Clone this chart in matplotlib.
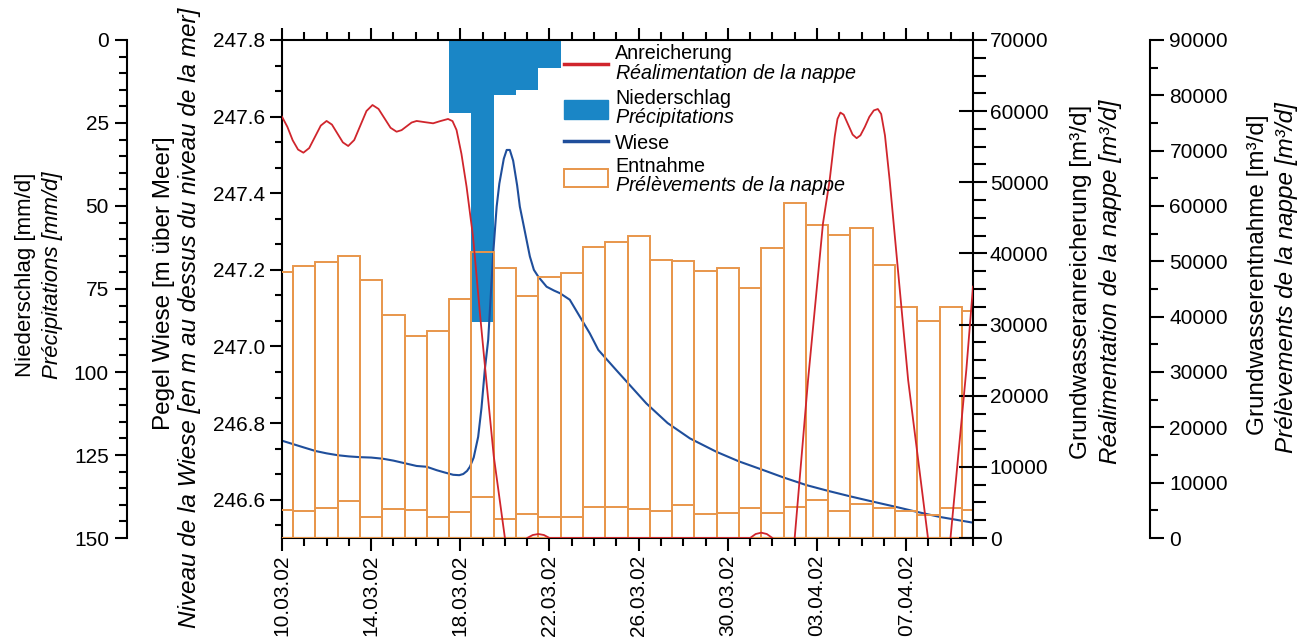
import numpy as np
import matplotlib
matplotlib.use("Agg")
import matplotlib.pyplot as plt
import matplotlib.dates as mdates
from matplotlib.patches import Patch
from matplotlib.lines import Line2D
from matplotlib.ticker import MultipleLocator

plt.rcParams['font.family'] = ['Liberation Sans', 'DejaVu Sans']
plt.rcParams['mathtext.fontset'] = 'custom'
plt.rcParams['mathtext.rm'] = 'Liberation Sans'
plt.rcParams['mathtext.it'] = 'Liberation Sans:italic'

# daily values, 10.03.02 .. 10.04.02
start = np.datetime64('2002-03-10')
days = np.arange(start, np.datetime64('2002-04-11'))

niederschlag = [0, 0, 0, 0, 0, 0, 0, 0, 21.9, 84.8, 16.6, 15.0, 8.3, 0, 0, 0,
                0, 0, 0, 0, 0, 0, 0, 0, 0, 0, 0, 0, 0, 0, 0, 0]
entnahme = [48130, 49160, 49820, 51020, 46680, 40300, 36560, 37350, 43250, 51690,
            48850, 43730, 47110, 47840, 52540, 53440, 54520, 50240, 50110, 48250,
            48740, 45180, 52350, 60490, 56570, 54760, 55970, 49340, 41800, 39270,
            41800, 41080]
entnahme_klein = [5060, 4880, 5480, 6690, 3740, 5240, 5060, 3850, 4700, 7460,
                  3490, 4340, 3740, 3850, 5660, 5660, 5300, 4820, 6000, 4340,
                  4570, 5480, 4570, 5660, 6870, 4880, 6090, 5480, 4930, 4160,
                  5480, 5060]

# Pegel Wiese: days after 10.03.02 00:00 / m ueber Meer
wiese_t = [0.0, 0.5, 1.0, 1.51, 2.0, 2.51, 3.0, 3.5, 4.0, 4.52, 5.0, 5.52, 6.04,
           6.49, 6.94, 7.3, 7.68, 7.95, 8.13, 8.3, 8.43, 8.6, 8.8, 8.95, 9.1,
           9.25, 9.475, 9.63, 9.75, 9.95, 10.08, 10.22, 10.37, 10.55, 10.67,
           10.82, 11.12, 11.3, 11.5, 11.87, 12.2, 12.47, 12.91, 13.36, 13.81,
           14.19, 15.0, 16.35, 17.3, 18.3, 19.49, 20.5, 21.51, 22.5, 23.53, 24.5,
           25.47, 26.5, 27.56, 28.5, 29.51, 30.3, 31.0]
wiese_h = [246.754, 246.745, 246.736, 246.727, 246.721, 246.716, 246.713,
           246.711, 246.710, 246.707, 246.702, 246.695, 246.688, 246.686,
           246.677, 246.671, 246.665, 246.664, 246.667, 246.675, 246.686,
           246.71, 246.764, 246.84, 246.94, 247.017, 247.243, 247.365, 247.425,
           247.49, 247.513, 247.513, 247.485, 247.42, 247.365, 247.322, 247.235,
           247.2, 247.182, 247.156, 247.146, 247.139, 247.122, 247.078, 247.034,
           246.991, 246.938, 246.851, 246.80, 246.76, 246.725, 246.70, 246.679,
           246.658, 246.638, 246.623, 246.609, 246.595, 246.581, 246.568,
           246.555, 246.547, 246.54]

# Anreicherung: days after 10.03.02 / m3 per day
anr_t = [0.0, 0.24, 0.48, 0.72, 0.96, 1.22, 1.48, 1.74, 2.0, 2.24, 2.485, 2.73,
         2.97, 3.24, 3.515, 3.79, 4.06, 4.33, 4.6, 4.87, 5.14, 5.365, 5.59,
         5.815, 6.04, 6.41, 6.78, 7.1, 7.45, 7.65, 7.83, 8.05, 8.28, 8.57, 8.88,
         9.15, 9.5, 10.0, 10.5, 11.0, 11.25, 11.5, 11.75, 12.0, 21.0, 21.25,
         21.5, 21.75, 22.0, 22.5, 23.0, 23.6, 24.27, 24.57, 24.8, 24.92, 25.05,
         25.2, 25.4, 25.6, 25.78, 25.95, 26.15, 26.35, 26.55, 26.73, 26.88,
         27.05, 27.26, 28.09, 28.98, 29.5, 29.99, 30.7, 31.0]
anr_q = [59220, 57800, 55900, 54600, 54160, 54810, 56390, 57970, 58620, 58110,
         56860, 55610, 55100, 55940, 57980, 60020, 60860, 60310, 58985, 57660,
         57110, 57330, 57865, 58400, 58620, 58450, 58290, 58600, 58900, 58600,
         57350, 54000, 49380, 42350, 31580, 22670, 11500, 0, -3000, 0, 420, 560,
         420, 0, 0, 560, 750, 560, 0, -3000, 0, 22210, 44230, 50320, 56500,
         58900, 59800, 59500, 58100, 56700, 56200, 56600, 57800, 59200, 60100,
         60300, 59600, 56600, 50320, 22210, 0, -5000, 0, 23610, 35340]

ORANGE = "#E8964B"
BLUE_BAR = "#1A86C6"
BLUE_LINE = "#1F4E9B"
RED = "#D0252C"
FS = 15

x0 = mdates.date2num(start)
xd = mdates.date2num(days)
wiese_x = x0 + np.array(wiese_t)
anr_x = x0 + np.array(anr_t)

fig = plt.figure(figsize=(13.04, 6.4), dpi=100)
ax = fig.add_axes([282 / 1304, 1 - 538 / 640, (973 - 282) / 1304, 498 / 640])
ax_p = ax.twinx()
ax_e = ax.twinx()
ax_r = ax.twinx()

ax_p.set_zorder(1)
ax.set_zorder(2)
ax_e.set_zorder(3)
ax_r.set_zorder(4)
for a in (ax, ax_p, ax_e, ax_r):
    a.patch.set_visible(False)
    for s in a.spines.values():
        s.set_linewidth(1.5)

# precipitation, hanging from the top
ax_p.bar(xd, niederschlag, width=1.0, color=BLUE_BAR, linewidth=0)
ax_p.set_ylim(150, 0)
ax_p.yaxis.tick_left()
for k in ('right', 'top', 'bottom'):
    ax_p.spines[k].set_visible(False)
ax_p.spines['left'].set_position(('outward', 155 * 0.72))
ax_p.yaxis.set_major_locator(MultipleLocator(25))
ax_p.yaxis.set_minor_locator(MultipleLocator(5))
ax_p.tick_params(axis='y', which='major', direction='out', length=9, width=1.5,
                 labelsize=FS, pad=4)
ax_p.tick_params(axis='y', which='minor', direction='out', length=6, width=1.5)

# Entnahme bars
ax_e.bar(xd, entnahme, width=1.0, facecolor='none', edgecolor=ORANGE, linewidth=1.4)
ax_e.bar(xd, entnahme_klein, width=1.0, facecolor='none', edgecolor=ORANGE, linewidth=1.4)
ax_e.set_ylim(0, 90000)
for k in ('left', 'top', 'bottom'):
    ax_e.spines[k].set_visible(False)
ax_e.spines['right'].set_position(('outward', 177 * 0.72))
ax_e.yaxis.set_major_locator(MultipleLocator(10000))
ax_e.yaxis.set_minor_locator(MultipleLocator(5000))
ax_e.tick_params(axis='y', which='major', direction='out', length=10, width=1.5,
                 labelsize=FS, pad=4)
ax_e.tick_params(axis='y', which='minor', direction='out', length=6, width=1.5)

# Pegel Wiese
ax.plot(wiese_x, wiese_h, color=BLUE_LINE, lw=1.5)
ax.set_ylim(246.5, 247.8)
ax.spines['right'].set_visible(False)
ax.yaxis.set_major_locator(MultipleLocator(0.2))
ax.yaxis.set_minor_locator(MultipleLocator(0.2 / 3))
ax.yaxis.set_major_formatter(plt.FormatStrFormatter('%.1f'))
ax.tick_params(axis='y', which='major', direction='out', length=9, width=1.5,
               labelsize=FS, pad=3)
ax.tick_params(axis='y', which='minor', direction='out', length=5, width=1.5)

ax.set_xlim(x0, x0 + 31)
ax.set_xticks(xd[::4])
ax.set_xticks(xd, minor=True)
ax.xaxis.set_major_formatter(mdates.DateFormatter('%d.%m.%y'))
ax.tick_params(axis='x', which='both', top=True, direction='out', width=1.5)
ax.tick_params(axis='x', which='major', length=9, labelsize=FS, labelrotation=90, pad=3)
ax.tick_params(axis='x', which='minor', length=6)

# Anreicherung
ax_r.plot(anr_x, anr_q, color=RED, lw=1.3, zorder=3)
ax_r.set_ylim(0, 70000)
for k in ('left', 'top', 'bottom'):
    ax_r.spines[k].set_visible(False)
ax_r.yaxis.set_major_locator(MultipleLocator(10000))
ax_r.yaxis.set_minor_locator(MultipleLocator(2500))
ax_r.tick_params(axis='y', which='major', direction='inout', length=20, width=1.5,
                 labelsize=FS, pad=2)
ax_r.tick_params(axis='y', which='minor', direction='out', length=9, width=1.5)

# axis titles, two lines each (second one italic)
def vlabel(xpx, ypx, txt, size, italic=False):
    fig.text(xpx / 1304, 1 - ypx / 640, txt, rotation=90, ha='center', va='center',
             fontsize=size, style='italic' if italic else 'normal')

vlabel(26, 275, 'Niederschlag [mm/d]', 16)
vlabel(53, 275, 'Précipitations [mm/d]', 16, True)
vlabel(164, 283, 'Pegel Wiese [m über Meer]', 17.5)
vlabel(190, 318, 'Niveau de la Wiese [en m au dessus du niveau de la mer]', 17.5, True)
vlabel(1081, 282, 'Grundwasseranreicherung [m³/d]', 17.5)
vlabel(1110, 282, 'Réalimentation de la nappe [m³/d]', 17.5, True)
vlabel(1258, 275, 'Grundwasserentnahme [m³/d]', 17.5)
vlabel(1287, 278, 'Prélèvements de la nappe [m³/d]', 17.5, True)

handles = [Line2D([], [], color=RED, lw=2.5),
           Patch(facecolor=BLUE_BAR, edgecolor=BLUE_BAR),
           Line2D([], [], color=BLUE_LINE, lw=2.5),
           Patch(facecolor='white', edgecolor=ORANGE, lw=1.4)]
labels = ['Anreicherung\n$\\mathit{Réalimentation\\ de\\ la\\ nappe}$',
          'Niederschlag\n$\\mathit{Précipitations}$',
          'Wiese',
          'Entnahme\n$\\mathit{Prélèvements\\ de\\ la\\ nappe}$']
leg = ax_r.legend(handles, labels, loc='upper left', bbox_to_anchor=(0.405, 0.995),
                  bbox_transform=ax.transAxes, frameon=False, fontsize=14.2,
                  handlelength=2.25, handleheight=1.05, handletextpad=0.35,
                  labelspacing=0.2, borderaxespad=0, borderpad=0.1)
for t in leg.get_texts():
    t.set_linespacing(0.9)

fig.savefig('out.png', dpi=100)
